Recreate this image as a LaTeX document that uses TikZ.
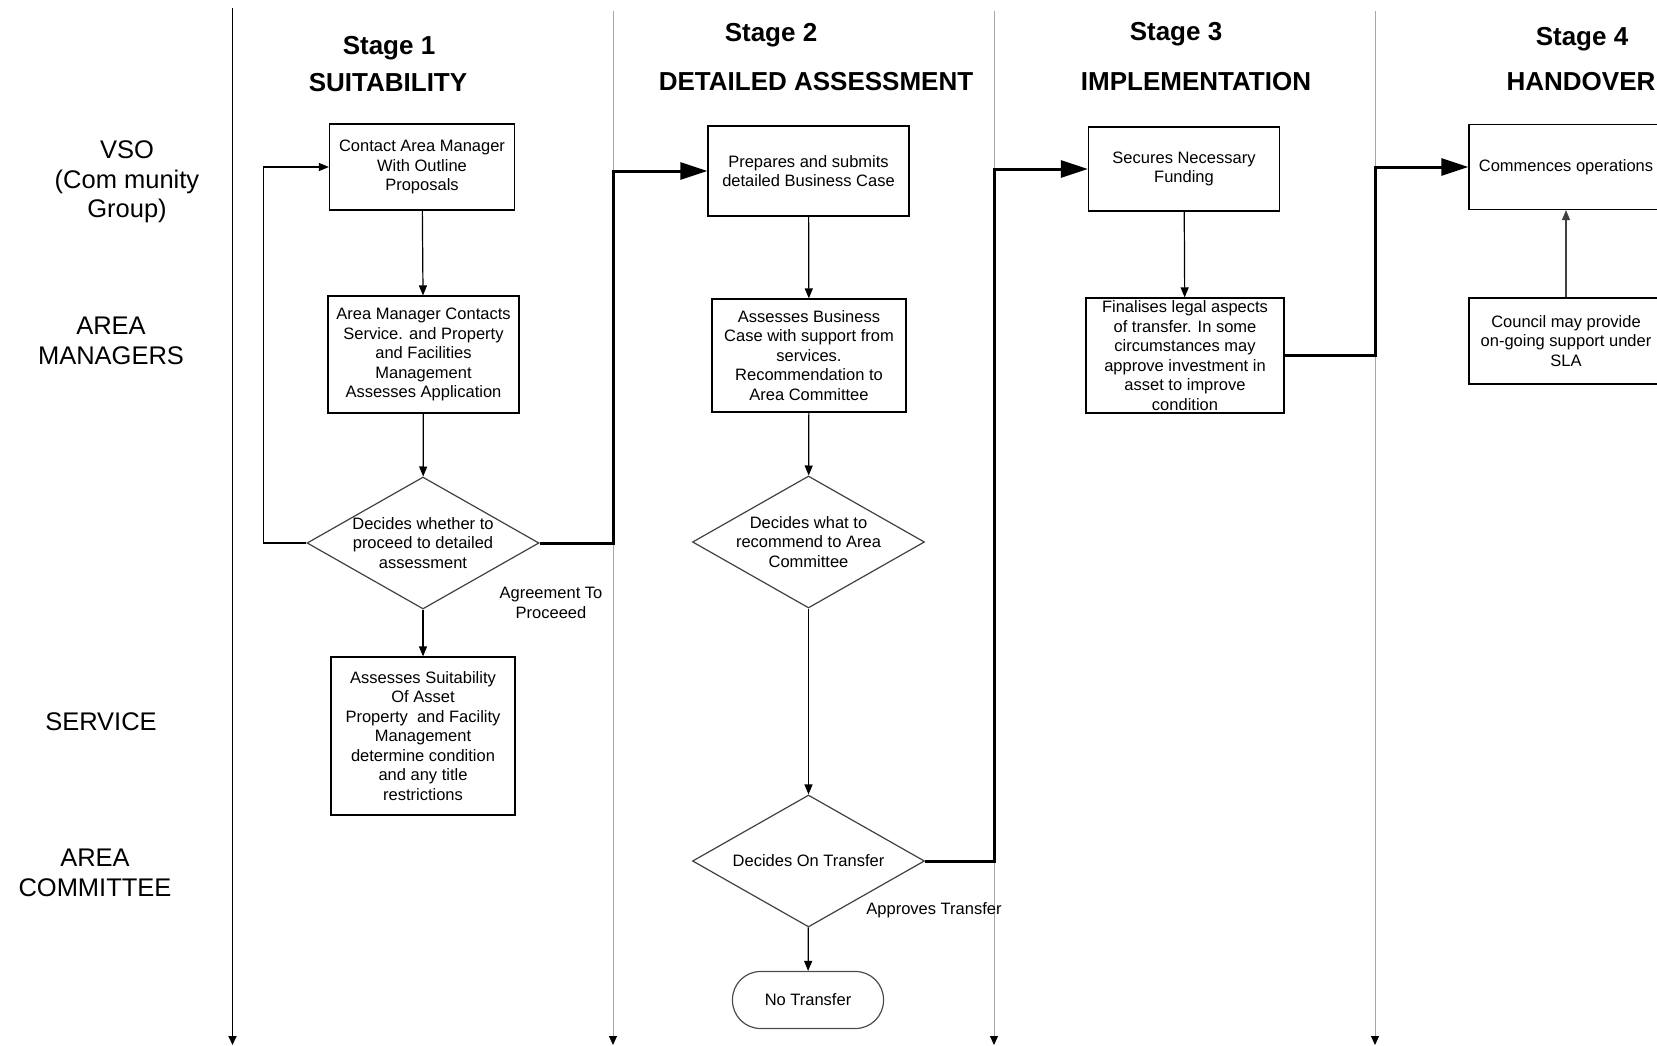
\documentclass[tikz,border=0pt]{standalone}
\usepackage{fontspec}
\setmainfont{Liberation Sans}
\usetikzlibrary{arrows.meta,shapes.geometric}

\begin{document}
\begin{tikzpicture}[
        x=1pt, y=-1pt,
        box/.style={draw, line width=1.2pt, align=center, inner sep=2pt, font=\fontsize{16.5}{19.5}\selectfont},
        decision/.style={draw=black!75, line width=1.2pt, diamond, aspect=1.76, inner ysep=0pt, inner xsep=-6pt, minimum width=232pt, minimum height=132pt, align=center, font=\fontsize{16.5}{19.5}\selectfont},
        terminal/.style={draw=black!70, line width=1.2pt, rounded corners=28pt, minimum width=151pt, minimum height=57pt, font=\fontsize{16.5}{19.5}\selectfont},
        note/.style={align=center, font=\fontsize{16.5}{19.5}\selectfont},
        lane/.style={align=center, font=\fontsize{25.5}{29.6}\selectfont},
        stage/.style={font=\bfseries\fontsize{26}{30}\selectfont},
        divider/.style={-{Triangle[length=9pt,width=8pt,black]}, line width=0.8pt, draw=black!35},
        arrow/.style={-{Triangle[length=10pt,width=8pt]}, line width=1.2pt},
        flow/.style={-{Triangle[length=27pt,width=17pt]}, line width=3pt}
        ]
        \clip (0,0) rectangle (1657,1046);

        % swimlane dividers
        \draw[divider, draw=black, line width=1.8pt] (232.5,8) -- (232.5,1045);
        \draw[divider] (613,11) -- (613,1045);
        \draw[divider] (994,11) -- (994,1045);
        \draw[divider] (1375,11) -- (1375,1045);

        % lane titles
        \node[lane] (vso) at (127,182) {VSO\\(Com munity\\Group)};
        \node[lane] (am) at (111,341) {AREA\\MANAGERS};
        \node[lane] (svc) at (101,722) {SERVICE};
        \node[lane] (ac) at (95,873) {AREA\\COMMITTEE};

        % stage headings
        \node[stage] (s1) at (389,48) {Stage 1};
        \node[stage] (s1t) at (388,83) {SUITABILITY};
        \node[stage] (s2) at (771,35) {Stage 2};
        \node[stage] (s2t) at (816,82) {DETAILED ASSESSMENT};
        \node[stage] (s3) at (1176,34) {Stage 3};
        \node[stage] (s3t) at (1196,82) {IMPLEMENTATION};
        \node[stage] (s4) at (1582,39) {Stage 4};
        \node[stage] (s4t) at (1581,82) {HANDOVER};

        % stage 1
        \node[box, minimum width=185pt, minimum height=86pt] (contact) at (422,167) {Contact Area Manager\\With Outline\\Proposals};
        \node[box, minimum width=191pt, minimum height=117pt] (assess) at (423.5,354.5) {Area Manager Contacts\\Service. and Property\\and Facilities\\Management\\Assesses Application};
        \node[decision] (proceed) at (423,543) {Decides whether to\\proceed to detailed\\assessment};
        \node[box, minimum width=184pt, minimum height=158pt] (suit) at (423,736) {Assesses Suitability\\Of Asset\\Property\ \ and Facility\\Management\\determine condition\\and any title\\restrictions};
        \node[note] (agree) at (551,603) {Agreement To\\Proceeed};

        % stage 2
        \node[box, minimum width=201pt, minimum height=90pt] (case) at (808.5,171) {Prepares and submits\\detailed Business Case};
        \node[box, minimum width=194pt, minimum height=113pt] (review) at (809,355.5) {Assesses Business\\Case with support from\\services.\\Recommendation to\\Area Committee};
        \node[decision] (recommend) at (808.5,542) {Decides what to\\recommend to Area\\Committee};
        \node[decision] (transfer) at (808.5,861) {Decides On Transfer};
        \node[terminal] (none) at (808,1000) {No Transfer};
        \node[note] (approve) at (934,910) {Approves Transfer};

        % stage 3
        \node[box, minimum width=191pt, minimum height=84pt] (funding) at (1184,169) {Secures Necessary\\Funding};
        \node[box, minimum width=198pt, minimum height=115pt] (legal) at (1185,355.5) {Finalises legal aspects\\of transfer. In some\\circumstances may\\approve investment in\\asset to improve\\condition};

        % stage 4
        \node[box, minimum width=194pt, minimum height=85pt] (ops) at (1566,167) {Commences operations};
        \node[box, minimum width=194pt, minimum height=86pt] (support) at (1566,341) {Council may provide\\on-going support under\\SLA};

        % connectors
        \draw[arrow] (contact) -- (assess);
        \draw[arrow] (assess) -- (proceed);
        \draw[arrow] (proceed) -- (suit);
        \draw[arrow] (proceed.west) -- ++(-43,0) |- (contact.west);
        \draw[flow] (proceed.east) -- (proceed.east -| 613,0) |- (case.west);
        \draw[arrow] (case) -- (review);
        \draw[arrow] (review) -- (recommend);
        \draw[arrow] (recommend) -- (transfer);
        \draw[arrow] (transfer) -- (none);
        \draw[flow] (transfer.east) -- (transfer.east -| 994,0) |- (funding.west);
        \draw[arrow] (funding) -- (legal);
        \draw[flow] (legal.east) -- (legal.east -| 1375,0) |- (ops.west);
        \draw[arrow, draw=black!75] (support) -- (ops);
    \end{tikzpicture}
\end{document}
